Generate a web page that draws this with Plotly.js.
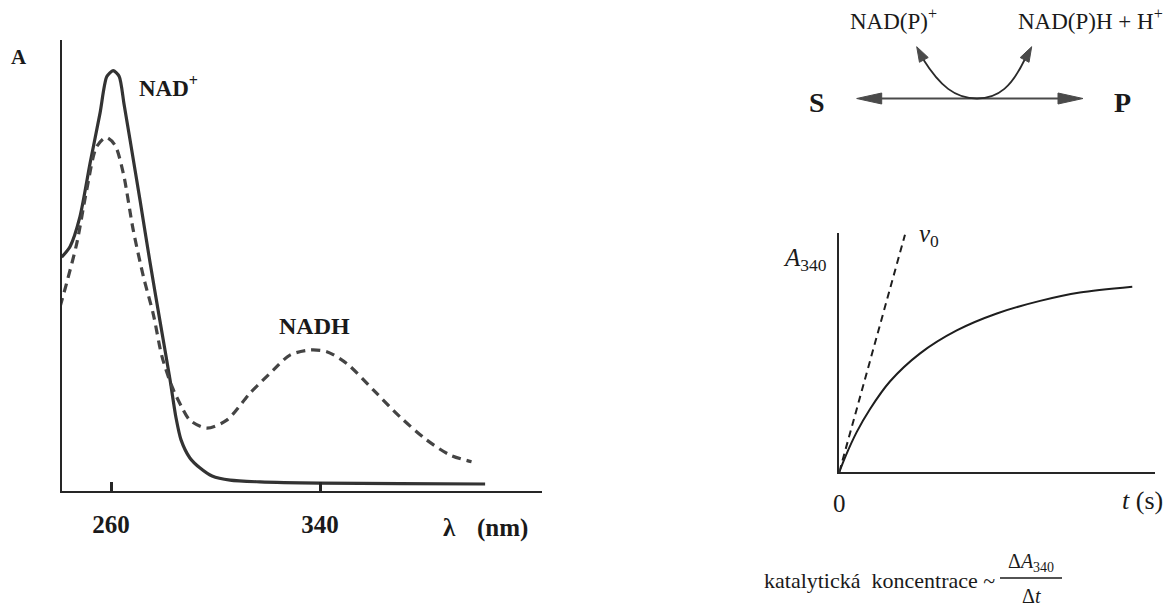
<!DOCTYPE html>
<html>
<head>
<meta charset="utf-8">
<script src="https://cdn.plot.ly/plotly-3.0.1.min.js"></script>
<style>html,body{margin:0;padding:0;background:#fff;}#chart{width:1167px;height:609px;}</style>
</head>
<body>
<div id="chart"></div>
<script>
// ---- Data: absorption spectra (wavelength nm, absorbance, relative units) ----
const nadWavelength = [241.1, 244.3, 248.1, 252.0, 255.8, 258.4, 260.8, 263.1, 265.0, 267.3, 271.1, 274.9, 278.8, 282.6, 284.9, 286.8, 290.2, 294.1, 298.7, 305.6, 317.0, 340.0, 370.6, 403.2];
const nadAbsorb    = [0.556, 0.581, 0.652, 0.780, 0.899, 0.986, 1.000, 0.987, 0.920, 0.835, 0.692, 0.545, 0.402, 0.264, 0.173, 0.121, 0.078, 0.054, 0.035, 0.025, 0.021, 0.018, 0.017, 0.016];

const nadhWavelength = [240.5, 243.0, 246.9, 250.7, 254.5, 258.1, 261.5, 264.7, 268.5, 272.4, 276.2, 279.5, 283.2, 287.0, 290.2, 296.6, 304.3, 313.2, 322.1, 328.5, 336.2, 342.6, 350.2, 360.4, 370.6, 380.8, 389.8, 398.0];
const nadhAbsorb     = [0.438, 0.494, 0.589, 0.716, 0.819, 0.841, 0.823, 0.756, 0.621, 0.510, 0.420, 0.320, 0.250, 0.200, 0.168, 0.149, 0.168, 0.232, 0.287, 0.323, 0.335, 0.331, 0.303, 0.240, 0.176, 0.121, 0.085, 0.069];

const spectrumTicks = [260, 340];
const spectrumTickText = ['260', '340'];

// ---- Data: kinetic curve (time, A340, relative units) ----
const kinTime = [0, 2.0, 5.5, 9.7, 16.1, 25.6, 37.2, 49.9, 63.6, 76.2, 92.8];
const kinA340 = [0, 0.080, 0.200, 0.315, 0.455, 0.595, 0.710, 0.795, 0.858, 0.900, 0.929];
const v0Time = [0, 20.8];
const v0A340 = [0, 1.19];

// ---- Layout helpers (pixel -> paper) ----
const W = 1167, H = 609;
const px = x => x / W;
const py = y => 1 - y / H;
const P = (x, y) => px(x) + ' ' + py(y);

const SERIF = '"Liberation Serif", "Times New Roman", Times, serif';
const INK = '#262626';
const TXT = '#1a1a1a';

function arrowHead(tx, ty, fx, fy, len, half) {
  const dx = tx - fx, dy = ty - fy, n = Math.hypot(dx, dy);
  const ux = dx / n, uy = dy / n;
  const bx = tx - ux * len, by = ty - uy * len;
  const nx = -uy, ny = ux;
  return {
    type: 'path', xref: 'paper', yref: 'paper',
    path: 'M ' + P(tx, ty) + ' L ' + P(bx + nx * half, by + ny * half) + ' L ' + P(bx - nx * half, by - ny * half) + ' Z',
    fillcolor: '#4a4a4a', line: {color: '#4a4a4a', width: 1}
  };
}

// spectrum axis pixel frame
const sx0 = 61.7, sx1 = 542, sTick260 = 111, sTick340 = 320;
const pxPerNm = (sTick340 - sTick260) / 80;
const sy0 = 490.7, sy1 = 40, pxPerA = 420;

// kinetic axis frame
const kx0 = 839.3, kx1 = 1155, ky0 = 472, ky1 = 232.7;

const traces = [
  {x: nadWavelength, y: nadAbsorb, type: 'scatter', mode: 'lines', xaxis: 'x', yaxis: 'y',
   line: {color: '#333', width: 3.2, shape: 'spline', smoothing: 0.7}, hoverinfo: 'skip'},
  {x: nadhWavelength, y: nadhAbsorb, type: 'scatter', mode: 'lines', xaxis: 'x', yaxis: 'y',
   line: {color: '#444', width: 3.2, dash: '9px,6px', shape: 'spline', smoothing: 0.8}, hoverinfo: 'skip'},
  {x: kinTime, y: kinA340, type: 'scatter', mode: 'lines', xaxis: 'x2', yaxis: 'y2',
   line: {color: '#1e1e1e', width: 2, shape: 'spline', smoothing: 0.8}, hoverinfo: 'skip'},
  {x: v0Time, y: v0A340, type: 'scatter', mode: 'lines', xaxis: 'x2', yaxis: 'y2',
   line: {color: '#1e1e1e', width: 2, dash: '7px,5px'}, hoverinfo: 'skip'}
];

const ann = (text, x, y, opts) => Object.assign({
  text: text, x: px(x), y: py(y), xref: 'paper', yref: 'paper', showarrow: false,
  xanchor: 'center', yanchor: 'middle', font: {family: SERIF, size: 22, color: TXT}
}, opts || {});
const f = (size) => ({family: SERIF, size: size, color: TXT});

const layout = {
  width: W, height: H,
  margin: {l: 0, r: 0, t: 0, b: 0},
  paper_bgcolor: '#fff', plot_bgcolor: 'rgba(0,0,0,0)',
  showlegend: false,
  font: {family: SERIF, color: TXT},
  xaxis: {
    domain: [px(sx0), px(sx1)],
    range: [260 - (sTick260 - sx0) / pxPerNm, 260 + (sx1 - sTick260) / pxPerNm],
    showline: true, linecolor: INK, linewidth: 2, showgrid: false, zeroline: false,
    tickvals: spectrumTicks, ticktext: spectrumTickText, ticks: 'inside', ticklen: 9, tickwidth: 3, tickcolor: INK,
    tickfont: {family: SERIF, size: 25, color: TXT, weight: 'bold'}, ticklabelstandoff: 10,
    anchor: 'y', fixedrange: true
  },
  yaxis: {
    domain: [py(sy0), py(sy1)],
    range: [0, (sy0 - sy1) / pxPerA],
    showline: true, linecolor: INK, linewidth: 2, showgrid: false, zeroline: false,
    showticklabels: false, ticks: '', anchor: 'x', fixedrange: true
  },
  xaxis2: {
    domain: [px(kx0), px(kx1)], range: [0, 100],
    showline: true, linecolor: INK, linewidth: 2, showgrid: false, zeroline: false,
    tickvals: [0], ticktext: ['0'], ticks: '',
    tickfont: {family: SERIF, size: 25, color: TXT}, ticklabelstandoff: 8,
    anchor: 'y2', fixedrange: true
  },
  yaxis2: {
    domain: [py(ky0), py(ky1)], range: [0, 1.2],
    showline: true, linecolor: INK, linewidth: 2, showgrid: false, zeroline: false,
    showticklabels: false, ticks: '', anchor: 'x2', fixedrange: true
  },
  shapes: [
    {type: 'line', xref: 'paper', yref: 'paper', x0: px(875), y0: py(98.5), x1: px(1065), y1: py(98.5),
     line: {color: '#4a4a4a', width: 2}},
    arrowHead(856.7, 98.5, 900, 98.5, 25, 5.5),
    arrowHead(1083, 98.5, 1040, 98.5, 25, 5.5),
    {type: 'path', xref: 'paper', yref: 'paper',
     path: 'M ' + P(923, 59) + ' C ' + P(940, 86) + ', ' + P(955, 98.5) + ', ' + P(977, 98.5) +
           ' C ' + P(999, 98.5) + ', ' + P(1012, 86) + ', ' + P(1025, 59),
     line: {color: '#2a2a2a', width: 1.8}},
    arrowHead(916.7, 46.7, 925, 62, 15, 5),
    arrowHead(1031.7, 46.7, 1023.5, 62, 15, 5),
    {type: 'line', xref: 'paper', yref: 'paper', x0: px(1000), y0: py(578), x1: px(1062), y1: py(578),
     line: {color: TXT, width: 1.3}}
  ],
  annotations: [
    ann('<b>A</b>', 19, 57, {font: f(21)}),
    ann('<b>NAD<sup>+</sup></b>', 137, 86, {xanchor: 'left', font: f(23)}),
    ann('<b>NADH</b>', 314, 326, {font: f(24)}),
    ann('<b>λ</b>', 449, 527, {font: f(25)}),
    ann('<b>(nm)</b>', 502, 528, {font: f(25)}),
    ann('NAD(P)<sup>+</sup>', 848, 20, {xanchor: 'left', font: f(23)}),
    ann('NAD(P)H + H<sup>+</sup>', 1016, 20, {xanchor: 'left', font: f(23)}),
    ann('<b>S</b>', 817, 102, {font: f(28)}),
    ann('<b>P</b>', 1122, 102, {font: f(28)}),
    ann('<i>A</i><sub>340</sub>', 781, 260, {xanchor: 'left', font: f(25)}),
    ann('<i>v</i><sub>0</sub>', 917, 236, {xanchor: 'left', font: f(25)}),
    ann('<i>t</i> (s)', 1165, 500, {xanchor: 'right', font: f(26)}),
    ann('katalytická  koncentrace ~', 997, 580, {xanchor: 'right', font: f(22)}),
    ann('Δ<i>A</i><sub>340</sub>', 1031, 562, {font: f(20)}),
    ann('Δ<i>t</i>', 1031, 596, {font: f(20)})
  ]
};

Plotly.newPlot('chart', traces, layout, {staticPlot: true, displayModeBar: false});
</script>
</body>
</html>
